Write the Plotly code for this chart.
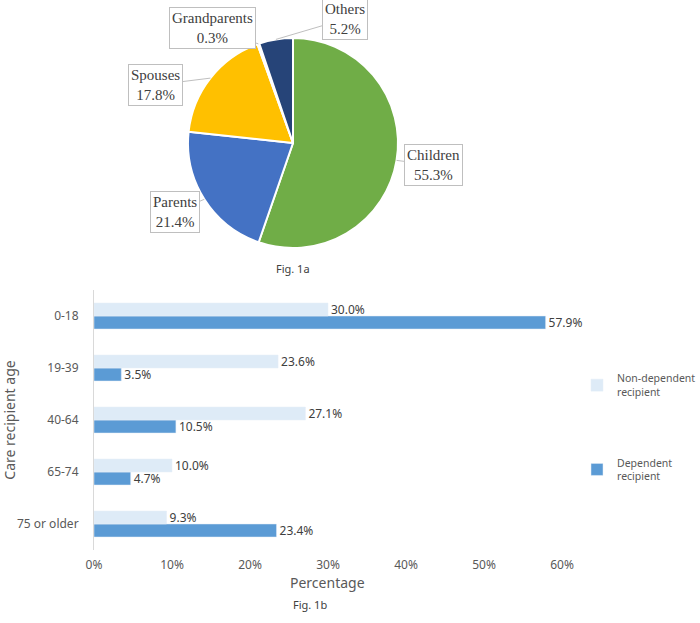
import math

import plotly.graph_objects as go

W, H = 700, 623

# Fig. 1a data
pie_labels = ["Children", "Parents", "Spouses", "Grandparents", "Others"]
pie_values = [55.3, 21.4, 17.8, 0.3, 5.2]
pie_colors = ["#70AD47", "#4472C4", "#FFC000", "#A5A5A5", "#264478"]

# Fig. 1b data
age_groups = ["0-18", "19-39", "40-64", "65-74", "75 or older"]
non_dependent = [0.300, 0.236, 0.271, 0.100, 0.093]
dependent = [0.579, 0.035, 0.105, 0.047, 0.234]
x_ticks = [0, 0.1, 0.2, 0.3, 0.4, 0.5, 0.6]


def px_x(x):
    return x / W


def px_y(y):
    return 1 - y / H


fig = go.Figure()

# Pie (pixel box: center 293,143, radius 105)
cx, cy, r = 293, 143, 105
fig.add_trace(
    go.Pie(
        labels=pie_labels,
        values=pie_values,
        sort=False,
        direction="clockwise",
        rotation=0,
        textinfo="none",
        hoverinfo="label+percent",
        marker=dict(colors=pie_colors, line=dict(color="white", width=2)),
        domain=dict(x=[px_x(cx - r), px_x(cx + r)], y=[px_y(cy + r), px_y(cy - r)]),
        showlegend=False,
    )
)

# Label boxes, placed by hand like in the original
label_pos = {
    "Children": (433, 165),
    "Parents": (175, 212),
    "Spouses": (155, 85),
    "Grandparents": (212, 28),
    "Others": (345, 19),
}
total = sum(pie_values)
cum = 0
for name, val in zip(pie_labels, pie_values):
    mid = (cum + val / 2) / total * 2 * math.pi
    cum += val
    hx = cx + r * math.sin(mid)
    hy = cy - r * math.cos(mid)
    lx, ly = label_pos[name]
    fig.add_annotation(
        x=px_x(hx),
        y=px_y(hy),
        xref="paper",
        yref="paper",
        ax=lx - hx,
        ay=ly - hy,
        text=f"{name}<br>{val:.1f}%",
        showarrow=True,
        arrowhead=0,
        arrowwidth=1,
        arrowcolor="#BFBFBF",
        bordercolor="#BFBFBF",
        borderwidth=1,
        borderpad=2,
        bgcolor="white",
        font=dict(family="Liberation Serif", size=15, color="#404040"),
        align="center",
    )

# Bars: dependent first so it sits at the bottom of each group
fig.add_trace(
    go.Bar(
        y=age_groups,
        x=dependent,
        orientation="h",
        name="Dependent<br>recipient",
        legendgroup="dep",
        legendrank=2,
        marker=dict(color="#5B9BD5"),
        texttemplate="%{x:.1%}",
        textposition="outside",
        constraintext="none",
        cliponaxis=False,
        textfont=dict(size=12, color="#404040"),
        xaxis="x",
        yaxis="y",
    )
)
fig.add_trace(
    go.Bar(
        y=age_groups,
        x=non_dependent,
        orientation="h",
        name="Non-dependent<br>recipient",
        legendgroup="nondep",
        legendrank=1,
        marker=dict(color="#DEEBF7"),
        texttemplate="%{x:.1%}",
        textposition="outside",
        constraintext="none",
        cliponaxis=False,
        textfont=dict(size=12, color="#404040"),
        xaxis="x",
        yaxis="y",
    )
)

fig.add_annotation(
    x=px_x(293), y=px_y(268), xref="paper", yref="paper",
    xanchor="center", yanchor="middle",
    text="Fig. 1a", showarrow=False,
    font=dict(family="Noto Sans", size=11, color="#404040"),
)
fig.add_annotation(
    x=px_x(310), y=px_y(604), xref="paper", yref="paper",
    xanchor="center", yanchor="middle",
    text="Fig. 1b", showarrow=False,
    font=dict(family="Noto Sans", size=11, color="#404040"),
)
# x-axis title, placed tight under the tick labels
fig.add_annotation(
    x=px_x(327), y=px_y(582), xref="paper", yref="paper",
    xanchor="center", yanchor="middle",
    text="Percentage", showarrow=False,
    font=dict(family="Noto Sans", size=14, color="#595959"),
)

fig.update_layout(
    width=W,
    height=H,
    margin=dict(l=0, r=0, t=0, b=0, autoexpand=False),
    paper_bgcolor="white",
    plot_bgcolor="white",
    font=dict(family="Noto Sans", color="#595959"),
    barmode="group",
    bargap=0.5,
    bargroupgap=0,
    xaxis=dict(
        domain=[px_x(94), px_x(562)],
        range=[0, 0.6],
        tickvals=x_ticks,
        tickformat=".0%",
        showgrid=False,
        zeroline=False,
        showline=False,
        ticks="",
        automargin=False,
        ticklabelstandoff=6,
        tickfont=dict(size=12, color="#595959"),
    ),
    yaxis=dict(
        domain=[px_y(550), px_y(290)],
        categoryorder="array",
        categoryarray=age_groups[::-1],
        showgrid=False,
        zeroline=False,
        showline=True,
        linecolor="#D9D9D9",
        ticks="",
        automargin=False,
        ticklabelstandoff=12,
        tickfont=dict(size=12, color="#595959"),
        title=dict(text="Care recipient age", standoff=12, font=dict(size=14, color="#595959")),
    ),
    legend=dict(
        x=px_x(577),
        y=px_y(365),
        xanchor="left",
        yanchor="top",
        traceorder="grouped",
        tracegroupgap=54,
        itemwidth=30,
        font=dict(size=10.5, color="#595959"),
    ),
)

fig.write_html(
    "out.html",
    config={"displayModeBar": False},
    post_script="document.body.style.margin = '0';",
)
